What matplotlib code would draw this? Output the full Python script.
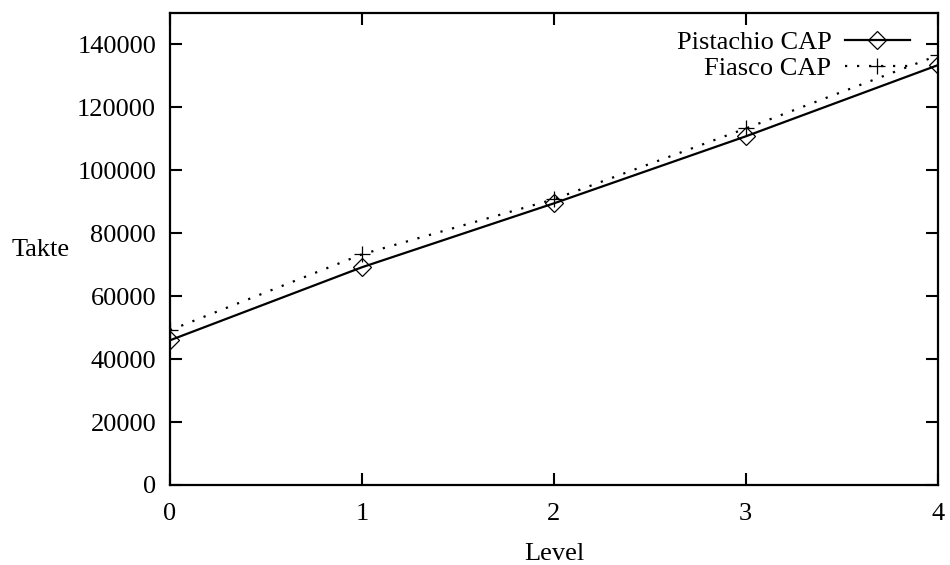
import matplotlib.pyplot as plt

plt.rcParams['font.family'] = ['Liberation Serif', 'DejaVu Serif']

levels = [0, 1, 2, 3, 4]
pistachio = [46000, 69200, 89500, 110800, 133400]
fiasco = [49200, 73300, 90800, 113300, 136500]

fig = plt.figure(figsize=(9.5, 5.65), dpi=100)
ax = fig.add_axes([0.179, 0.1416, 0.808, 0.8354])

ax.plot(levels, pistachio, color='black', lw=1.6, marker='D', markersize=9.5,
        markerfacecolor='none', markeredgecolor='black', markeredgewidth=0.9,
        label='Pistachio CAP')
ax.plot(levels, fiasco, color='black', lw=1.6, dashes=(1, 4.4), marker='+',
        markersize=12, markeredgewidth=0.9, label='Fiasco CAP')

ax.set_xlim(0, 4)
ax.set_ylim(0, 150000)
ax.set_xticks(levels)
ax.set_yticks(range(0, 150000, 20000))
ax.tick_params(direction='in', length=8.5, width=1.5, top=True, right=True,
               labelsize=19)
ax.tick_params(axis='y', pad=10)
ax.tick_params(axis='x', pad=13)
for s in ax.spines.values():
    s.set_linewidth(1.6)

ax.set_xlabel('Level', fontsize=19, labelpad=13)
ax.set_ylabel('Takte', fontsize=19, rotation=0, ha='left', va='center')
ax.yaxis.set_label_coords(-0.206, 0.498)

ax.legend(loc='upper right', bbox_to_anchor=(0.984, 0.996), frameon=False,
          markerfirst=False, fontsize=19, handlelength=2.46, handletextpad=0.5,
          labelspacing=0.1, borderaxespad=0.2)

fig.savefig('out.png', dpi=100)
